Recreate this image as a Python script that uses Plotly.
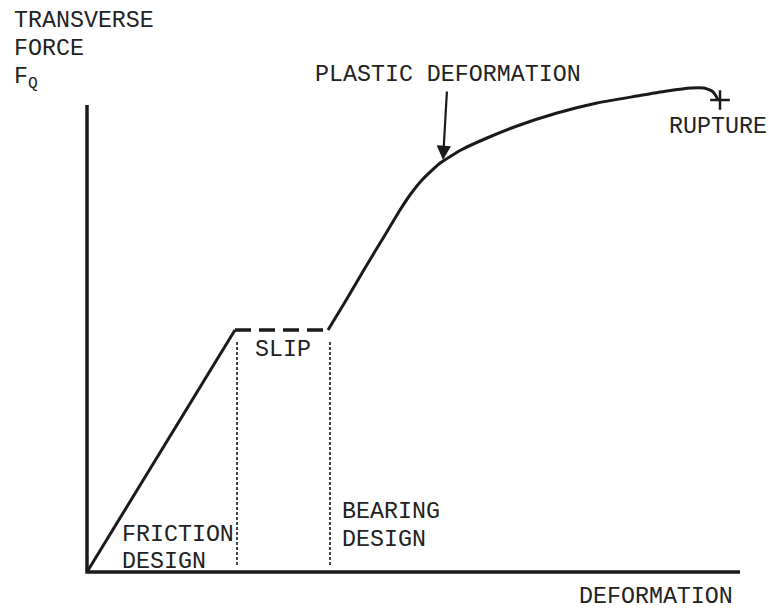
import plotly.graph_objects as go

# Load-deformation behaviour of a bolted joint (schematic)
# Units: deformation and transverse force, arbitrary scale
elastic_deform = [0, 148]
elastic_force = [0, 242]

slip_deform = [148, 241]
slip_force = [242, 242]

bearing_deform = [241, 258, 278, 298, 313, 323, 335, 352, 374, 400, 430,
                  470, 510, 550, 580, 604, 617, 625, 629, 631]
bearing_force = [242, 270, 304, 337, 362, 377, 392, 408, 422, 434, 446,
                 459, 469, 476, 481, 484, 484, 481, 476, 472]

rupture_point = (633, 472)
plastic_point = (356, 412)

slip_start = 150
slip_end = 243
boundary_top = 232
boundary_bottom = 7

axis_x_max = 653
axis_y_max = 467

ink = "#1a1a1a"
font = dict(family="Liberation Mono", size=23.3, color="#222222")

fig = go.Figure()

# axes
fig.add_trace(go.Scatter(x=[0, 0, axis_x_max], y=[axis_y_max, 0, 0], mode="lines",
                         line=dict(color=ink, width=3.5), hoverinfo="skip"))

# region boundaries
for xb in (slip_start, slip_end):
    fig.add_trace(go.Scatter(x=[xb, xb], y=[boundary_bottom, boundary_top], mode="lines",
                             line=dict(color="#444444", width=2, dash="3px,2px"),
                             hoverinfo="skip"))

# elastic (friction) branch
fig.add_trace(go.Scatter(x=elastic_deform, y=elastic_force, mode="lines",
                         line=dict(color=ink, width=3), hoverinfo="skip"))

# slip plateau
fig.add_trace(go.Scatter(x=slip_deform, y=slip_force, mode="lines",
                         line=dict(color=ink, width=3.5, dash="16px,8px"), hoverinfo="skip"))

# bearing / plastic branch up to rupture
fig.add_trace(go.Scatter(x=bearing_deform, y=bearing_force, mode="lines",
                         line=dict(color=ink, width=3, shape="spline", smoothing=0.5),
                         hoverinfo="skip"))

# rupture mark
fig.add_trace(go.Scatter(x=[rupture_point[0]], y=[rupture_point[1]], mode="markers",
                         marker=dict(symbol="cross-thin", size=14,
                                     line=dict(color=ink, width=2.5)),
                         hoverinfo="skip"))

labels = [
    ("TRANSVERSE", -75, 551),
    ("FORCE", -75, 523),
    ("F<sub>Q</sub>", -75, 494),
    ("PLASTIC DEFORMATION", 226, 497),
    ("RUPTURE", 580, 445),
    ("SLIP", 166, 222),
    ("FRICTION", 33, 37),
    ("DESIGN", 33, 10),
    ("BEARING", 253, 60),
    ("DESIGN", 253, 32),
    ("DEFORMATION", 490, -25),
]
for text, x, y in labels:
    fig.add_annotation(x=x, y=y, text=text, showarrow=False, xanchor="left",
                       yanchor="middle", font=font)

# arrow pointing at onset of plastic deformation
fig.add_annotation(x=plastic_point[0], y=plastic_point[1], ax=plastic_point[0] + 4,
                   ay=plastic_point[1] + 70, axref="x", ayref="y", text="",
                   showarrow=True, arrowhead=2, arrowsize=1.3, arrowwidth=2.2,
                   arrowcolor=ink, standoff=0)

fig.update_layout(
    width=769, height=610, autosize=False,
    margin=dict(l=0, r=0, t=0, b=0),
    paper_bgcolor="white", plot_bgcolor="white",
    showlegend=False,
    xaxis=dict(range=[-87, 682], visible=False, fixedrange=True),
    yaxis=dict(range=[-38, 572], visible=False, fixedrange=True),
)

fig.write_html("out.html")
